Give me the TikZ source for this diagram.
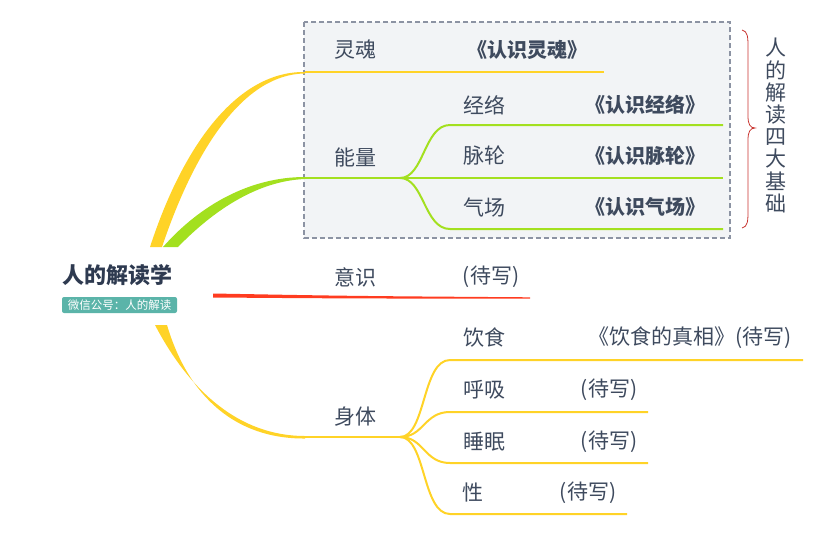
\documentclass[tikz,border=0pt]{standalone}
\usepackage{fontspec}
\setmainfont{Noto Sans CJK SC}
\definecolor{inkc}{RGB}{62,74,94}
\definecolor{rootc}{RGB}{46,58,80}
\definecolor{tagc}{RGB}{91,180,169}
\definecolor{yellowbr}{RGB}{255,211,39}
\definecolor{greenbr}{RGB}{163,224,31}
\definecolor{redbr}{RGB}{255,60,32}
\definecolor{boxfill}{RGB}{242,244,246}
\definecolor{boxline}{RGB}{140,147,163}
\definecolor{bracec}{RGB}{200,52,47}
\begin{document}
\begin{tikzpicture}[x=1pt,y=-1pt,
  topic/.style={font=\fontsize{21}{23}\selectfont,text=inkc,inner sep=0pt},
  book/.style={font=\fontsize{20}{22}\selectfont\bfseries,text=inkc,inner sep=0pt},
  root node/.style={font=\fontsize{22}{24}\selectfont\bfseries,text=rootc,inner sep=0pt},
  tag node/.style={fill=tagc,text=white,rounded corners=2pt,inner sep=0pt,
    minimum width=115pt,minimum height=16pt,font=\fontsize{11.5}{13}\selectfont},
  yellow line/.style={draw=yellowbr,line width=2pt},
  green line/.style={draw=greenbr,line width=2pt}]

  \useasboundingbox (0,0) rectangle (832,546);

  % group box and brace
  \draw[fill=boxfill,draw=boxline,dash pattern=on 5pt off 3pt,line width=1.3pt] (304,22) rectangle (730,238);
  \draw[bracec,line width=0.8pt] (742,30) .. controls (748,31) and (748,38) .. (748,48)
    -- (748,116) .. controls (748,124) and (750,128) .. (755,128)
    .. controls (750,128) and (748,132) .. (748,140)
    -- (748,210) .. controls (748,220) and (748,227) .. (742,228);
  \node[font=\fontsize{21}{22.2}\selectfont,text=inkc,align=center,inner sep=0pt] (four) at (776,125.5)
    {人\\的\\解\\读\\四\\大\\基\\础};

  % root
  \node[root node] (root) at (117,275) {人的解读学};
  \node[tag node] (tag) at (119.5,305) {微信公号：人的解读};

  % branch ends
  \coordinate (soul) at (305,72);
  \coordinate (soulend) at (604,72);
  \coordinate (energy) at (305,178);
  \coordinate (efork) at (400,178);
  \coordinate (meridian) at (450,125);
  \coordinate (chakra) at (450,178);
  \coordinate (aura) at (450,229);
  \coordinate (body) at (305,437);
  \coordinate (bfork) at (400,437);
  \coordinate (diet) at (450,360);
  \coordinate (breath) at (450,412);
  \coordinate (sleep) at (450,463);
  \coordinate (sex) at (450,514);

  % main branches
  \fill[yellowbr] (150,247) .. controls (185,140) and (240,71) .. (soul)
    -- (305,73.5) .. controls (245,74) and (196,146) .. (162,247) -- cycle;
  \fill[greenbr] (163,247) .. controls (200,205) and (250,177) .. (305,177)
    -- (305,179) .. controls (256,181) and (212,212) .. (178,247) -- cycle;
  \fill[redbr] (213,293.5) .. controls (350,296) .. (530,297.3)
    -- (530,298.7) .. controls (350,298.5) .. (213,297.5) -- cycle;
  \fill[yellowbr] (155,325) .. controls (190,392) and (240,436) .. (305,436)
    -- (305,438.5) .. controls (235,439) and (188,396) .. (167,325) -- cycle;

  % sub branches
  \draw[draw=yellowbr,line width=2.5pt] (soul) -- (soulend);
  \draw[green line] (energy) -- (efork);
  \draw[green line] (efork) .. controls +(24,0) and +(-26,0) .. (meridian) -- (723,125);
  \draw[green line] (efork) -- (chakra) -- (723,178);
  \draw[green line] (efork) .. controls +(24,0) and +(-26,0) .. (aura) -- (723,229);
  \draw[yellow line] (body) -- (bfork);
  \draw[yellow line] (bfork) .. controls +(26,0) and +(-28,0) .. (diet) -- (803,360);
  \draw[yellow line] (bfork) .. controls +(24,0) and +(-26,0) .. (breath) -- (648,412);
  \draw[yellow line] (bfork) .. controls +(24,0) and +(-26,0) .. (sleep) -- (648,463);
  \draw[yellow line] (bfork) .. controls +(26,0) and +(-28,0) .. (sex) -- (627,514);

  % labels
  \node[topic] (soul-t) at (355,50) {灵魂};
  \node[book] (soul-b) at (527,50) {《认识灵魂》};
  \node[topic] (energy-t) at (355,157) {能量};
  \node[topic] (meridian-t) at (484,105) {经络};
  \node[book] (meridian-b) at (645,105) {《认识经络》};
  \node[topic] (chakra-t) at (484,156) {脉轮};
  \node[book] (chakra-b) at (645,156) {《认识脉轮》};
  \node[topic] (aura-t) at (484,207) {气场};
  \node[book] (aura-b) at (645,207) {《认识气场》};
  \node[topic] (mind-t) at (355,277) {意识};
  \node[topic] (mind-n) at (491,277) {(待写)};
  \node[topic] (body-t) at (355,417) {身体};
  \node[topic] (diet-t) at (484,338) {饮食};
  \node[topic] (diet-b) at (690,338) {《饮食的真相》(待写)};
  \node[topic] (breath-t) at (484,390) {呼吸};
  \node[topic] (breath-n) at (609,390) {(待写)};
  \node[topic] (sleep-t) at (484,442) {睡眠};
  \node[topic] (sleep-n) at (609,442) {(待写)};
  \node[topic] (sex-t) at (473,493) {性};
  \node[topic] (sex-n) at (588,493) {(待写)};
\end{tikzpicture}
\end{document}
